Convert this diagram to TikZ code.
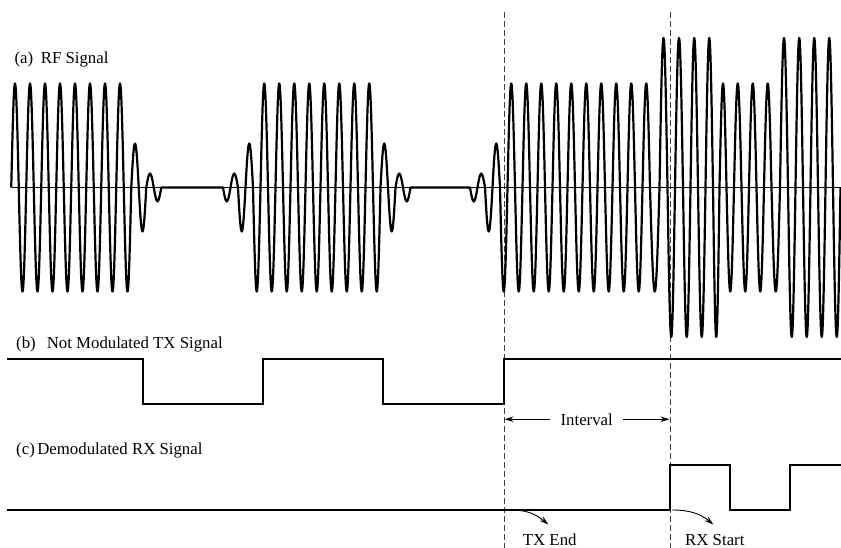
\documentclass[tikz,border=0pt]{standalone}
\usepackage{fontspec}
\setmainfont{Liberation Serif}
\usetikzlibrary{arrows.meta}
\begin{document}
\begin{tikzpicture}[x=1pt,y=-1pt,
  lbl/.style={font=\fontsize{16.8}{20}\selectfont, inner sep=0pt, anchor=base west},
  rfline/.style={line width=2.2pt, line join=round},
  axisline/.style={line width=0.9pt},
  digital/.style={line width=2pt, line join=miter},
  guide/.style={line width=1pt, draw=black!75, dash pattern=on 6pt off 3pt},
  arr/.style={line width=0.9pt, -{Stealth[length=9pt,width=5.5pt]}},
]
\useasboundingbox (0,0) rectangle (841,548);

% guide lines (TX end / RX start)
\coordinate (d1top) at (504,12);
\coordinate (d1bot) at (504,548);
\coordinate (d2top) at (670,12);
\coordinate (d2bot) at (670,548);
\draw[guide] (d1top) -- (d1bot);
\draw[guide] (d2top) -- (d2bot);

% labels
\node[lbl] (lblA) at (14.3,63.3) {(a)\hspace{7.7pt}RF Signal};
\node[lbl] (lblB) at (16,348.3) {(b)\hspace{11pt}Not Modulated TX Signal};
\node[lbl] (lblC) at (16,454.3) {(c)\hspace{2.5pt}Demodulated RX Signal};

% RF axis
\coordinate (axL) at (12,187.5);
\coordinate (axR) at (841,187.5);
\draw[axisline] (axL) -- (axR);

% RF signal
\begin{scope}[shift={(0,187.5)}]
\draw[rfline] (11.25,0)
  \foreach \i in {0,...,7} { sin ({15+15*\i},-104) cos ({18.75+15*\i},0) sin ({22.5+15*\i},104) cos ({26.25+15*\i},0) }
  sin (135,-44) cos (138.75,0) sin (142.5,44) cos (146.25,0)
  sin (150,-14) cos (153.75,0) sin (157.5,14) cos (161.25,0)
  -- (223,0)
  sin (226.75,14) cos (230.5,0) sin (234.25,-14) cos (238,0)
  sin (241.75,44) cos (245.5,0) sin (249.25,-44) cos (253,0)
  sin (256.75,104) cos (260.5,0)
  \foreach \i in {0,...,7} { sin ({264.25+15*\i},-104) cos ({268+15*\i},0) sin ({271.75+15*\i},104) cos ({275.5+15*\i},0) }
  sin (384.25,-44) cos (388,0) sin (391.75,44) cos (395.5,0)
  sin (399.25,-14) cos (403,0) sin (406.75,14) cos (410.5,0)
  -- (470,0)
  sin (473.75,14) cos (477.5,0) sin (481.25,-14) cos (485,0)
  sin (488.75,44) cos (492.5,0) sin (496.25,-44) cos (500,0)
  sin (503.75,104) cos (507.5,0)
  \foreach \i in {0,...,8} { sin ({511.25+15*\i},-104) cos ({515+15*\i},0) sin ({518.75+15*\i},104) cos ({522.5+15*\i},0) }
  sin (646.25,-104) cos (650,0) sin (654.75,104) cos (659.5,0)
  sin (663.5,-149.5) cos (667.5,0) sin (671.25,149.5) cos (675,0)
  sin (679,-149.5) cos (683,0) sin (686.75,149.5) cos (690.5,0)
  sin (694.25,-149.5) cos (698,0) sin (701.75,149.5) cos (705.5,0)
  sin (709.25,-149.5) cos (713,0) sin (716.25,149.5) cos (719.5,0)
  sin (723,-104) cos (726.5,0) sin (730.25,104) cos (734,0)
  sin (737.75,-104) cos (741.5,0) sin (745.25,104) cos (749,0)
  sin (752.75,-104) cos (756.5,0) sin (760.25,104) cos (764,0)
  sin (767.75,-104) cos (771.5,0) sin (775.75,104) cos (780,0)
  sin (784,-149.5) cos (788,0) sin (791.75,149.5) cos (795.5,0)
  sin (799.25,-149.5) cos (803,0) sin (806.75,149.5) cos (810.5,0)
  sin (814.25,-149.5) cos (818,0) sin (821.75,149.5) cos (825.5,0)
  sin (829.25,-149.5) cos (833,0) sin (836.75,149.5) cos (840.5,0);
\end{scope}

% TX signal
\coordinate (txS) at (6.7,359);
\coordinate (txE) at (841,359);
\draw[digital] (txS) -- (143.3,359) -- (143.3,404) -- (263.3,404) -- (263.3,359)
  -- (383.3,359) -- (383.3,404) -- (504,404) -- (504,359) -- (txE);

% RX signal
\coordinate (rxS) at (6.7,509.5);
\coordinate (rxE) at (841,465);
\draw[digital] (rxS) -- (670,509.5) -- (670,465) -- (730,465) -- (730,509.5)
  -- (790,509.5) -- (790,465) -- (rxE);

% Interval
\node[font=\fontsize{16.8}{20}\selectfont, inner xsep=10pt, inner ysep=0pt, anchor=base] (interval) at (586.7,425) {Interval};
\coordinate (ivL) at (504.5,420);
\coordinate (ivR) at (669.5,420);
\draw[arr] (interval.west) -- (interval.west -| ivL);
\draw[arr] (interval.east) -- (interval.east -| ivR);

% TX End / RX Start
\coordinate (teS) at (512,510);
\coordinate (teE) at (548.3,524.5);
\coordinate (rsS) at (672,510);
\coordinate (rsE) at (713.3,524.5);
\draw[arr] (teS) to[out=0,in=140] (teE);
\draw[arr] (rsS) to[out=0,in=140] (rsE);
\node[lbl] (txend) at (522.7,545) {TX End};
\node[lbl] (rxstart) at (685,545) {RX Start};
\end{tikzpicture}
\end{document}
